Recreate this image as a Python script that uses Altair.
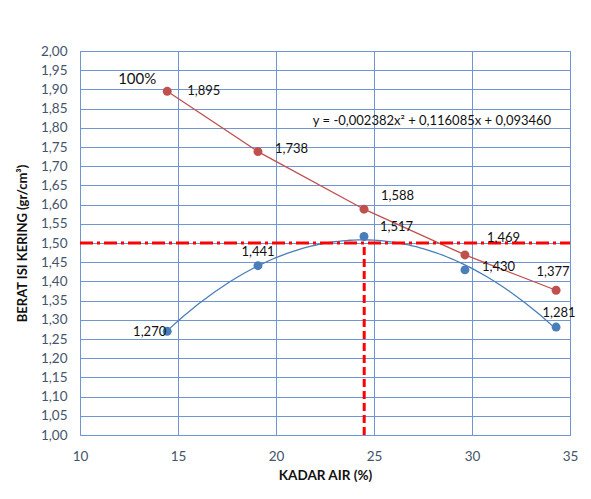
import altair as alt
import pandas as pd

# ---- data ----
kadar_air = [14.45, 19.08, 24.49, 29.64, 34.29]
berat_blue = [1.270, 1.441, 1.517, 1.430, 1.281]
berat_red = [1.895, 1.738, 1.588, 1.469, 1.377]
label_blue = ["1,270", "1,441", "1,517", "1,430", "1,281"]
label_red = ["1,895", "1,738", "1,588", "1,469", "1,377"]
x_ticks = [10, 15, 20, 25, 30, 35]
y_ticks = [1.00, 1.05, 1.10, 1.15, 1.20, 1.25, 1.30, 1.35, 1.40, 1.45, 1.50,
           1.55, 1.60, 1.65, 1.70, 1.75, 1.80, 1.85, 1.90, 1.95, 2.00]
ref_y = [1.50]
opt_x = [24.5]
equation = "y = -0,002382x² + 0,116085x + 0,093460"
pct_label = "100%"

# ---- label styling (offsets, alignment) ----
blue_style = [("right", -1, 1), ("center", 0, -14), ("left", 16, -9), ("left", 17, -3), ("center", 3, -14)]
red_style = [("left", 20, 0), ("left", 17, -3), ("left", 17, -13), ("left", 22, -17), ("center", -3, -18)]

FONT = "Lato"
GRID = "#6f95d2"
BLUE = "#4a7ebb"
RED = "#c0504d"

blue_df = pd.DataFrame({"x": kadar_air, "y": berat_blue, "lab": label_blue, "i": range(5)})
red_df = pd.DataFrame({"x": kadar_air, "y": berat_red, "lab": label_red, "i": range(5)})

xs = alt.Scale(domain=[10, 35], nice=False, zero=False)
ys = alt.Scale(domain=[1.0, 2.0], nice=False, zero=False)

x_axis = alt.Axis(values=x_ticks, grid=True, gridColor=GRID, gridWidth=1, ticks=False, domain=False,
                  labelFont=FONT, labelFontSize=13.5, labelColor="#44546a", labelPadding=14,
                  labelFlush=False, labelOverlap=False,
                  title="KADAR AIR (%)", titleFont=FONT, titleFontSize=13.5, titleFontWeight="bold",
                  titleColor="#111111", titlePadding=6)
y_axis = alt.Axis(values=y_ticks, tickCount=21, grid=True, gridColor=GRID, gridWidth=1, ticks=False,
                  domain=False, labelFlush=False, labelOverlap=False,
                  labelFont=FONT, labelFontSize=13.5, labelColor="#44546a", labelPadding=13,
                  labelExpr="replace(format(datum.value, '.2f'), '.', ',')",
                  title="BERAT ISI KERING (gr/cm³)", titleFont=FONT, titleFontSize=13,
                  titleFontWeight="bold", titleColor="#111111", titleX=-58, titleY=192,
                  titleBaseline="middle", titleAngle=-90)

blue_base = alt.Chart(blue_df)
red_base = alt.Chart(red_df)

blue_curve = blue_base.transform_regression("x", "y", method="poly", order=2,
                                            extent=[kadar_air[0], kadar_air[-1]]).mark_line(
    color=BLUE, strokeWidth=1.3).encode(
    x=alt.X("x:Q", scale=xs, axis=x_axis), y=alt.Y("y:Q", scale=ys, axis=y_axis))

red_line = red_base.mark_line(color=RED, strokeWidth=1.3).encode(
    x=alt.X("x:Q", scale=xs), y=alt.Y("y:Q", scale=ys))

hline = alt.Chart(pd.DataFrame({"y": ref_y})).mark_rule(
    color="#ff0000", strokeWidth=3, strokeDash=[13, 4, 3, 4]).encode(
    y=alt.Y("y:Q", scale=ys), x=alt.value(0), x2=alt.value(490))

vline = alt.Chart(pd.DataFrame({"x": opt_x, "y": [1.0], "y2": ref_y})).mark_rule(
    color="#ff0000", strokeWidth=3, strokeDash=[8, 4]).encode(
    x=alt.X("x:Q", scale=xs), y=alt.Y("y:Q", scale=ys), y2="y2:Q")

blue_pts = blue_base.mark_circle(size=80, color=BLUE, opacity=1).encode(
    x=alt.X("x:Q", scale=xs), y=alt.Y("y:Q", scale=ys))
red_pts = red_base.mark_circle(size=80, color=RED, opacity=1).encode(
    x=alt.X("x:Q", scale=xs), y=alt.Y("y:Q", scale=ys))

labels = []
for base, style in ((blue_base, blue_style), (red_base, red_style)):
    for i, (al, dx, dy) in enumerate(style):
        labels.append(base.transform_filter(alt.datum.i == i).mark_text(
            align=al, baseline="middle", dx=dx, dy=dy, font=FONT, fontSize=13, color="#111111").encode(
            x=alt.X("x:Q", scale=xs), y=alt.Y("y:Q", scale=ys), text="lab:N"))

pct = red_base.transform_filter(alt.datum.i == 0).transform_calculate(t=f"'{pct_label}'").mark_text(
    align="center", baseline="middle", dx=-30, dy=-12, font=FONT, fontSize=15, color="#111111").encode(
    x=alt.X("x:Q", scale=xs), y=alt.Y("y:Q", scale=ys), text="t:N")

eq = alt.Chart(pd.DataFrame({"t": [equation]})).mark_text(
    align="center", baseline="middle", font=FONT, fontSize=13, color="#111111").encode(
    x=alt.value(352), y=alt.value(70), text="t:N")

chart = alt.layer(blue_curve, red_line, hline, vline, blue_pts, red_pts, *labels, pct, eq).properties(
    width=490, height=384, autosize="none",
    padding={"left": 72, "top": 43, "right": 13, "bottom": 56},
    background="white",
).configure_view(stroke=GRID, strokeWidth=1, fill="white")

chart.save("out.html", embed_options={"renderer": "svg", "actions": False})
